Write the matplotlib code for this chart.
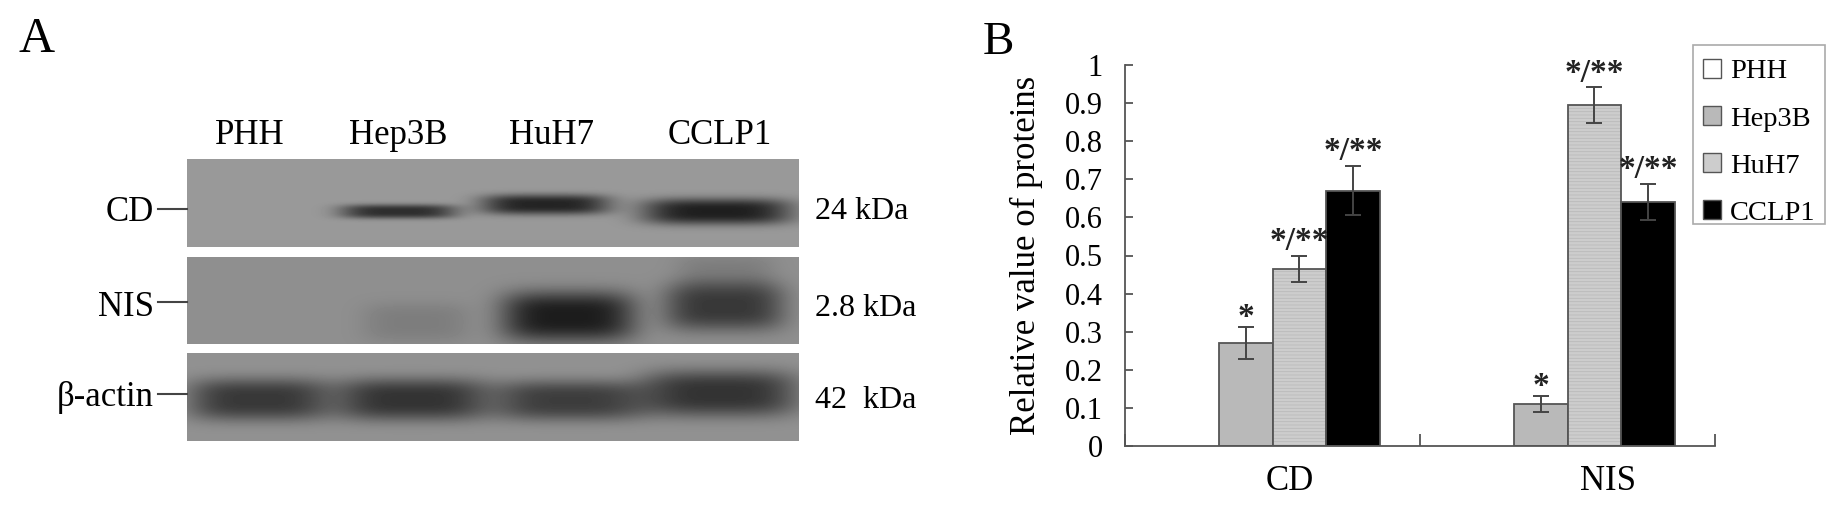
import numpy as np
import matplotlib
matplotlib.use("Agg")
import matplotlib.pyplot as plt
from matplotlib.patches import Patch, Rectangle

plt.rcParams['font.family'] = ['Liberation Serif', 'DejaVu Serif']
plt.rcParams['hatch.linewidth'] = 0.6

W, H = 1844, 508

# Panel B data
lines = ["PHH", "Hep3B", "HuH7", "CCLP1"]
groups = ["CD", "NIS"]
cd_vals = [0, 0.27, 0.465, 0.67]
nis_vals = [0, 0.11, 0.895, 0.64]
cd_err = [0, 0.042, 0.035, 0.065]
nis_err = [0, 0.021, 0.046, 0.048]
cd_marks = ["", "*", "*/**", "*/**"]
nis_marks = ["", "*", "*/**", "*/**"]
y_ticks = [0, 0.1, 0.2, 0.3, 0.4, 0.5, 0.6, 0.7, 0.8, 0.9, 1]
y_labels = ["0", "0.1", "0.2", "0.3", "0.4", "0.5", "0.6", "0.7", "0.8", "0.9", "1"]

# Panel A data: band = (left, right, centre y, half height, darkness) in blot pixels
blot_rows = ["CD", "NIS", "β-actin"]
blot_weights = ["24 kDa", "2.8 kDa", "42  kDa"]
blot_boxes = [(187, 799, 159, 247), (187, 799, 257, 344), (187, 799, 353, 441)]
blot_bg = [0.60, 0.56, 0.57]
cd_bands = [(340, 456, 211, 7, 0.42), (481, 609, 204, 10, 0.46), (642, 791, 211, 13, 0.48)]
nis_bands = [(362, 470, 322, 20, 0.07), (501, 635, 316, 25, 0.45),
             (664, 784, 306, 24, 0.34), (676, 774, 272, 18, 0.07)]
actin_bands = [(188, 329, 399, 21, 0.35), (336, 488, 399, 21, 0.37),
               (495, 644, 400, 20, 0.33), (642, 797, 393, 23, 0.37)]
all_bands = [cd_bands, nis_bands, actin_bands]


def fx(px):
    return px / W


def fy(py):
    return 1 - py / H


fig = plt.figure(figsize=(W / 100, H / 100), dpi=100)

# Western blot strips
for box, bg, bands in zip(blot_boxes, blot_bg, all_bands):
    x0, x1, y0, y1 = box
    ax_b = fig.add_axes([fx(x0), fy(y1), (x1 - x0) / W, (y1 - y0) / H])
    xx, yy = np.meshgrid(np.arange(x0, x1), np.arange(y0, y1))
    img = np.full(xx.shape, bg, dtype=float)
    for left, right, cy, hh, dark in bands:
        cx = (left + right) / 2
        hw = (right - left) / 2
        img -= dark * np.exp(-(np.abs(xx - cx) / hw) ** 4 - (np.abs(yy - cy) / hh) ** 3)
    ax_b.imshow(img, cmap="gray", vmin=0, vmax=1, aspect="auto")
    ax_b.axis("off")

# Blot text
fig.text(fx(37), fy(40), "A", fontsize=36, ha="center", va="center")
lane_x = [250, 398, 551, 720]
for name, x in zip(lines, lane_x):
    fig.text(fx(x), fy(135), name, fontsize=25, ha="center", va="center")

row_y = [213, 308, 397]
tick_y = [209, 302, 394]
weight_y = [212, 309, 400]
for i in range(3):
    fig.text(fx(154), fy(row_y[i]), blot_rows[i], fontsize=25, ha="right", va="center")
    fig.add_artist(plt.Line2D([fx(158), fx(187)], [fy(tick_y[i]), fy(tick_y[i])],
                              color="#444444", lw=1.5))
    fig.text(fx(815), fy(weight_y[i]), blot_weights[i], fontsize=23, ha="left", va="center")

# Bar chart
ax = fig.add_axes([fx(1125), fy(446), (1715 - 1125) / W, (446 - 65) / H])
w = 0.182
centres = [0.5, 1.5]
fills = ["white", "#b9b9b9", "#cdcdcd", "black"]
hatches = [None, None, "-----", None]

for j, (vals, errs, marks) in enumerate([(cd_vals, cd_err, cd_marks), (nis_vals, nis_err, nis_marks)]):
    for i in range(4):
        x = centres[j] + (i - 1.5) * w
        if vals[i] == 0:
            continue
        if hatches[i]:
            ax.bar(x, vals[i], w, color=fills[i], edgecolor="#bababa", linewidth=0,
                   hatch=hatches[i], zorder=2)
            ax.bar(x, vals[i], w, fill=False, edgecolor="#555555", linewidth=1.3, zorder=2)
        else:
            ax.bar(x, vals[i], w, color=fills[i], edgecolor="#555555", linewidth=1.3, zorder=2)
        ax.errorbar(x, vals[i], yerr=errs[i], color="#444444", capsize=6, elinewidth=1.4,
                    capthick=1.4, zorder=3)
        off = -4 if marks[i] == "*" else -1
        ax.annotate(marks[i], (x, vals[i] + errs[i]), xytext=(0, off), textcoords="offset points",
                    ha="center", va="bottom", fontsize=24, fontweight="bold", color="#222222")

ax.set_xlim(0, 2)
ax.set_ylim(0, 1)
ax.set_yticks(y_ticks)
ax.set_yticklabels(y_labels, fontsize=22)
ax.set_xticks([0, 1, 2])
ax.set_xticklabels([])
ax.tick_params(axis="y", direction="in", length=6, width=1.3, color="#555555", pad=16)
ax.tick_params(axis="x", direction="in", length=9, width=1.3, color="#555555")
ax.spines["top"].set_visible(False)
ax.spines["right"].set_visible(False)
ax.spines["left"].set_color("#555555")
ax.spines["bottom"].set_color("#555555")
ax.spines["left"].set_linewidth(1.3)
ax.spines["bottom"].set_linewidth(1.3)
ax.patch.set_alpha(0)

fig.text(fx(1026), fy(255), "Relative value of proteins", fontsize=25, rotation=90,
         ha="center", va="center")
group_x = [1290, 1608]
for name, x in zip(groups, group_x):
    fig.text(fx(x), fy(481), name, fontsize=25, ha="center", va="center")
fig.text(fx(998), fy(43), "B", fontsize=34, ha="center", va="center")

# Legend box drawn apart so its height can follow the reference
fig.add_artist(Rectangle((fx(1693), fy(224)), (1825 - 1693) / W, (224 - 45) / H,
                         transform=fig.transFigure, facecolor="white", edgecolor="#aaaaaa",
                         linewidth=1.2, zorder=4))
handles = [Patch(facecolor=fills[i], edgecolor="#555555", label=lines[i]) for i in range(4)]
leg = fig.legend(handles=handles, loc="upper left", bbox_to_anchor=(fx(1691), fy(47)), borderaxespad=0,
                 fontsize=20.5, frameon=False, handlelength=0.65, handleheight=0.65,
                 handletextpad=0.3, labelspacing=0.76, borderpad=0.42)
leg.set_zorder(5)

fig.savefig("out.png", dpi=100)
